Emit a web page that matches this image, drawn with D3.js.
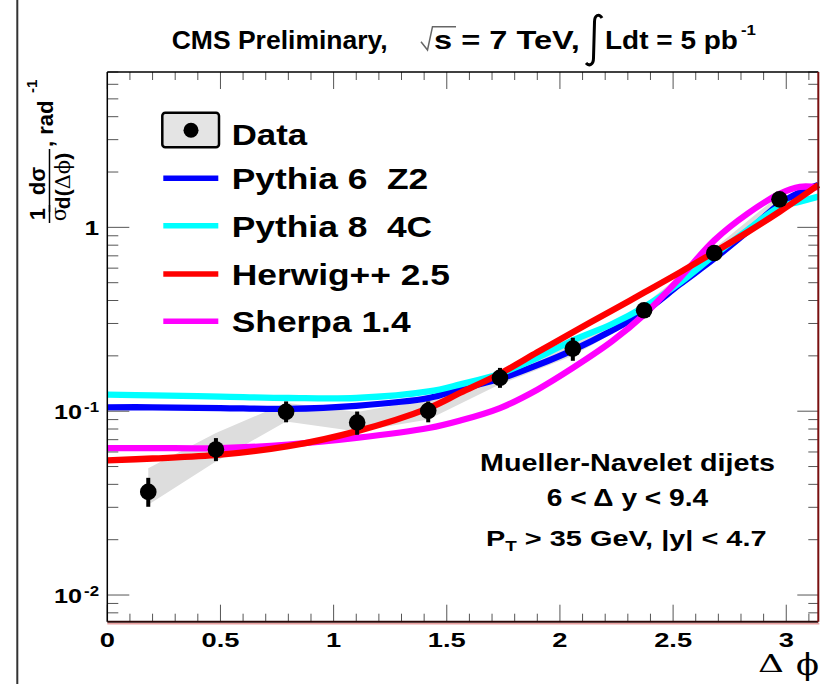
<!DOCTYPE html>
<html>
<head>
<meta charset="utf-8">
<script src="https://cdn.jsdelivr.net/npm/d3@7"></script>
<style>
  html, body { margin: 0; padding: 0; background: #fff; }
  svg { display: block; }
</style>
</head>
<body>
<svg id="chart" width="831" height="684"></svg>
<script>
// ---------------- data ----------------
const dataX  = [0.181, 0.480, 0.790, 1.104, 1.418, 1.735, 2.057, 2.372, 2.682, 2.970];
const dataY  = [0.0364, 0.0619, 0.0991, 0.0868, 0.1004, 0.152, 0.219, 0.354, 0.725, 1.42];
const statLo = [0.0302, 0.0535, 0.087, 0.0744, 0.087, 0.134, 0.188, 0.330, 0.70, 1.38];
const statHi = [0.0434, 0.0714, 0.113, 0.0996, 0.113, 0.172, 0.251, 0.380, 0.75, 1.46];
const sysLo  = [0.031, 0.0533, 0.088, 0.0776, 0.090, 0.140, 0.200, 0.330, 0.68, 1.33];
const sysHi  = [0.049, 0.0760, 0.111, 0.099, 0.1160, 0.165, 0.235, 0.380, 0.77, 1.50];

const curveX   = [0, 0.2, 0.5, 0.8, 1.1, 1.42, 1.56, 1.735, 1.9, 2.057, 2.23, 2.372, 2.53, 2.682, 2.83, 2.97, 3.06, 3.1416];
const pythia6  = [0.105, 0.105, 0.104, 0.103, 0.107, 0.118, 0.132, 0.150, 0.178, 0.215, 0.275, 0.347, 0.49, 0.676, 0.95, 1.34, 1.55, 1.70];
const pythia8  = [0.123, 0.122, 0.120, 0.118, 0.118, 0.128, 0.140, 0.160, 0.195, 0.243, 0.298, 0.369, 0.50, 0.705, 0.97, 1.29, 1.38, 1.47];
const herwig   = [0.054, 0.0553, 0.058, 0.0645, 0.0777, 0.104, 0.126, 0.160, 0.209, 0.269, 0.353, 0.442, 0.569, 0.733, 0.944, 1.216, 1.445, 1.70];
const sherpa   = [0.063, 0.063, 0.063, 0.0658, 0.0715, 0.081, 0.089, 0.104, 0.131, 0.172, 0.240, 0.335, 0.53, 0.85, 1.19, 1.52, 1.66, 1.65];

const seriesNames  = ["Pythia 6\u00A0\u00A0Z2", "Pythia 8\u00A0\u00A04C", "Herwig++ 2.5", "Sherpa 1.4"];
const seriesValues = [pythia6, pythia8, herwig, sherpa];
const seriesColors = ["#0000ff", "#00ffff", "#ff0000", "#ff00ff"];

const xTickLabels = ["0", "0.5", "1", "1.5", "2", "2.5", "3"];
const xTickValues = [0, 0.5, 1, 1.5, 2, 2.5, 3];
const yTickValues = [0.01, 0.1, 1];
const yTickBase   = ["10", "10", "1"];
const yTickExp    = ["-2", "-1", ""];

const titleParts  = ["CMS Preliminary,", "s = 7 TeV,", "Ldt = 5 pb", "-1"];
const annotLines  = ["Mueller-Navelet dijets", "6 < \u0394 y < 9.4"];

// ---------------- setup ----------------
const FONT = "'Liberation Sans', Arial, Helvetica, sans-serif";
const SERIF = "'DejaVu Serif', 'Liberation Serif', serif";
const svg = d3.select("#chart");
const W = 831, H = 684;
const L = 107.3, R = 818.3, T = 72, B = 621.7;

const x = d3.scaleLinear().domain([0, Math.PI]).range([L, R]);
const y = d3.scaleLog().domain([0.00716, 7.0]).range([B, T]);

function fitText(parent, str, x0, base, width, size, opts = {}) {
  const g = parent.append("g").attr("transform", `translate(${x0},${base})`);
  const t = g.append("text")
    .attr("font-family", opts.family || FONT)
    .attr("font-weight", opts.weight || "bold")
    .attr("font-size", size)
    .attr("fill", "#000")
    .text(str);
  const w = t.node().getComputedTextLength();
  t.attr("transform", `scale(${width / w},1)`);
  return t;
}
function stretchText(parent, str, cx, base, size, factor, anchor) {
  const g = parent.append("g").attr("transform", `translate(${cx},${base}) scale(${factor},1)`);
  return g.append("text")
    .attr("font-family", FONT).attr("font-weight", "bold")
    .attr("font-size", size).attr("text-anchor", anchor || "middle")
    .attr("fill", "#000").text(str);
}

// left outer line
svg.append("line").attr("x1", 17.3).attr("x2", 17.3).attr("y1", 0).attr("y2", H)
  .attr("stroke", "#333").attr("stroke-width", 2);

// ---------------- band (systematics) ----------------
const plot = svg.append("g");
const bandPts = dataX.map((d, i) => [x(d), y(sysHi[i])])
  .concat(dataX.map((d, i) => [x(d), y(sysLo[i])]).reverse());
plot.append("path")
  .attr("d", "M" + bandPts.map(p => p.join(",")).join("L") + "Z")
  .attr("fill", "#dddddd").attr("stroke", "none");

// ---------------- curves ----------------
const line = d3.line().x(d => x(d[0])).y(d => y(d[1])).curve(d3.curveCatmullRom.alpha(0.5));
const drawOrder = [0, 1, 3, 2];
drawOrder.forEach(i => {
  const pts = curveX.map((cx, j) => [cx, seriesValues[i][j]]);
  plot.append("path").attr("d", line(pts))
    .attr("fill", "none").attr("stroke", seriesColors[i])
    .attr("stroke-width", 6.3).attr("stroke-linecap", "butt");
});

// ---------------- data points ----------------
dataX.forEach((d, i) => {
  plot.append("line")
    .attr("x1", x(d)).attr("x2", x(d))
    .attr("y1", y(statLo[i])).attr("y2", y(statHi[i]))
    .attr("stroke", "#000").attr("stroke-width", 4);
  plot.append("circle").attr("cx", x(d)).attr("cy", y(dataY[i])).attr("r", 8.3).attr("fill", "#000");
});

// ---------------- frame & ticks ----------------
const axes = svg.append("g");
for (let k = 0; k <= 31; k++) {
  const v = k / 10;
  const major = (k % 5 === 0);
  const px = x(v);
  axes.append("line").attr("x1", px).attr("x2", px).attr("y1", B).attr("y2", B - (major ? 17 : 8))
    .attr("stroke", "#555").attr("stroke-width", 1);
  axes.append("line").attr("x1", px).attr("x2", px).attr("y1", T).attr("y2", T + (major ? 17 : 8))
    .attr("stroke", "#555").attr("stroke-width", 1);
}
const yMinor = [];
[0.001, 0.01, 0.1, 1].forEach(dec => { for (let m = 1; m <= 9; m++) yMinor.push(dec * m); });
yMinor.filter(v => v >= 0.00716 && v <= 7.0).forEach(v => {
  const major = yTickValues.some(t => Math.abs(t - v) < 1e-9);
  const py = y(v);
  axes.append("line").attr("x1", L).attr("x2", L + (major ? 22 : 11)).attr("y1", py).attr("y2", py)
    .attr("stroke", "#555").attr("stroke-width", 1);
  axes.append("line").attr("x1", R).attr("x2", R - (major ? 21 : 10)).attr("y1", py).attr("y2", py)
    .attr("stroke", "#555").attr("stroke-width", 1);
});
axes.append("line").attr("x1", L).attr("x2", R).attr("y1", T).attr("y2", T).attr("stroke", "#000").attr("stroke-width", 1.5);
axes.append("line").attr("x1", L).attr("x2", L).attr("y1", T).attr("y2", B).attr("stroke", "#000").attr("stroke-width", 1.5);
axes.append("line").attr("x1", L).attr("x2", R + 1).attr("y1", B + 2).attr("y2", B + 2).attr("stroke", "#eaa0a0").attr("stroke-width", 1.5);
axes.append("line").attr("x1", L).attr("x2", R).attr("y1", B).attr("y2", B).attr("stroke", "#2a0808").attr("stroke-width", 2);
axes.append("line").attr("x1", R).attr("x2", R).attr("y1", T).attr("y2", B).attr("stroke", "#7a1010").attr("stroke-width", 2);

xTickValues.forEach((v, i) => {
  stretchText(axes, xTickLabels[i], x(v), 646.7, 21, 1.3, "middle");
});
yTickValues.forEach((v, i) => {
  const py = y(v);
  if (yTickExp[i] === "") {
    stretchText(axes, yTickBase[i], 99, py + 7.5, 21, 1.25, "end");
  } else {
    stretchText(axes, yTickExp[i], 99, py + 1, 14, 1.2, "end");
    stretchText(axes, yTickBase[i], 82, py + 7.5, 21, 1.2, "end");
  }
});

// x axis label  Δ ϕ
fitText(svg, "\u0394", 758, 672, 26, 25, { family: SERIF, weight: "normal" });
fitText(svg, "\u03D5", 796, 675, 23, 30, { family: SERIF, weight: "normal" });

// y axis label (rotated pieces)
function rtext(xb, yc, str, size, anchor, family, weight) {
  return svg.append("text")
    .attr("transform", `translate(${xb},${yc}) rotate(-90)`)
    .attr("text-anchor", anchor || "middle")
    .attr("font-family", family || FONT).attr("font-weight", weight || "bold")
    .attr("font-size", size).attr("fill", "#000").text(str);
}
rtext(45, 214, "1", 22);
svg.append("line").attr("x1", 49.5).attr("x2", 49.5).attr("y1", 205).attr("y2", 223).attr("stroke", "#000").attr("stroke-width", 1.5);
rtext(66, 214, "\u03C3", 21, "middle", SERIF, "normal");
rtext(45, 181, "d\u03C3", 22);
svg.append("line").attr("x1", 49.5).attr("x2", 49.5).attr("y1", 149).attr("y2", 212).attr("stroke", "#000").attr("stroke-width", 1.5);
const den = rtext(70, 181, "", 21);
den.append("tspan").text("d(");
den.append("tspan").attr("font-family", SERIF).attr("font-weight", "normal").text("\u0394\u03D5");
den.append("tspan").text(")");
rtext(53, 147, ", rad", 22, "start");
rtext(37, 93, "-1", 15, "start");

// ---------------- title ----------------
fitText(svg, titleParts[0], 171.7, 49.3, 216, 26);
svg.append("path").attr("d", "M421,41.7 L427.5,50 L432.5,26.7 L456,26.7")
  .attr("fill", "none").attr("stroke", "#666").attr("stroke-width", 1.5);
fitText(svg, titleParts[1], 434, 49.3, 146, 26);
svg.append("path").attr("d", "M602,18 C599,13 594.5,15 594.5,22 L593.5,58 C593.5,65 589,66.5 586,63")
  .attr("fill", "none").attr("stroke", "#000").attr("stroke-width", 3);
fitText(svg, titleParts[2], 605, 49.3, 133, 26);
fitText(svg, titleParts[3], 741, 35, 15, 15);

// ---------------- legend ----------------
const leg = svg.append("g");
leg.append("rect").attr("x", 162.3).attr("y", 112.7).attr("width", 56.7).attr("height", 34.6)
  .attr("rx", 3).attr("fill", "#e4e4e4").attr("stroke", "#000").attr("stroke-width", 2.5);
leg.append("circle").attr("cx", 191).attr("cy", 130.3).attr("r", 7.5).attr("fill", "#000");
stretchText(leg, "Data", 231.7, 145, 29, 1.2, "start");
const legBase = [189.3, 236.7, 285, 332.3];
seriesNames.forEach((n, i) => {
  leg.append("line").attr("x1", 163.3).attr("x2", 218.3)
    .attr("y1", legBase[i] - 11).attr("y2", legBase[i] - 11)
    .attr("stroke", seriesColors[i]).attr("stroke-width", 5.5);
  stretchText(leg, n, 231.7, legBase[i], 29, 1.22, "start");
});

// ---------------- annotation ----------------
const ann = svg.append("g");
fitText(ann, annotLines[0], 480, 470.7, 295, 23);
fitText(ann, annotLines[1], 546.7, 506, 161.6, 23);
{
  const g = ann.append("g").attr("transform", "translate(486,546)");
  const t = g.append("text").attr("font-family", FONT).attr("font-weight", "bold").attr("font-size", 23);
  t.append("tspan").text("P");
  t.append("tspan").attr("font-size", 15).attr("dy", 5).text("T");
  t.append("tspan").attr("dy", -5).text(" > 35 GeV, |y| < 4.7");
  const w = t.node().getComputedTextLength();
  t.attr("transform", `scale(${280.7 / w},1)`);
}
</script>
</body>
</html>
